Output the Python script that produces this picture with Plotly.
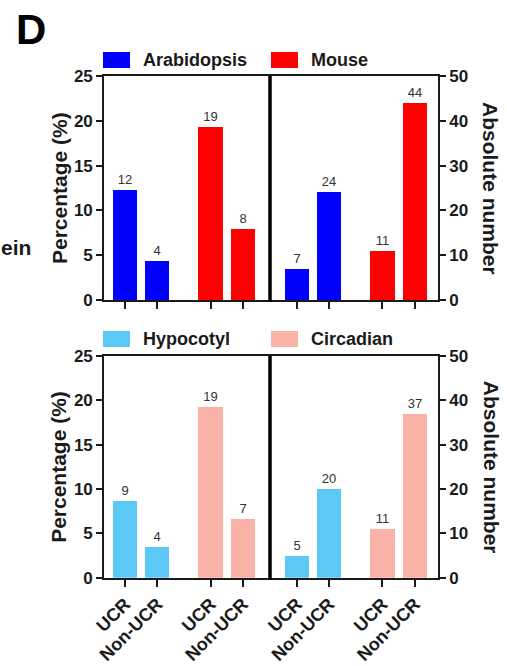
import plotly.graph_objects as go

# ---------------- data ----------------
categories = ["UCR", "Non-UCR"]

# top panel
arabidopsis_pct = [12.3, 4.3]
arabidopsis_pct_labels = ["12", "4"]
mouse_pct = [19.3, 7.9]
mouse_pct_labels = ["19", "8"]
arabidopsis_abs = [7, 24]
mouse_abs = [11, 44]

# bottom panel
hypocotyl_pct = [8.7, 3.5]
hypocotyl_pct_labels = ["9", "4"]
circadian_pct = [19.3, 6.6]
circadian_pct_labels = ["19", "7"]
hypocotyl_abs = [5, 20]
circadian_abs = [11, 37]

pct_ticks = [0, 5, 10, 15, 20, 25]
abs_ticks = [0, 10, 20, 30, 40, 50]

# ---------------- style ----------------
W, H = 507, 666
FONT = "Liberation Sans, Arial, sans-serif"
BLUE, RED = "#0000FF", "#FF0000"
LBLUE, SALMON = "#5BC8F5", "#F9B2A6"
GROUP_OFFSET = 2.65
BAR_W = 0.75


def fx(p):
    return p / W


def fy(p):
    return 1 - p / H


def pos(group):
    return [i + group * GROUP_OFFSET for i in range(len(categories))]


all_pos = pos(0) + pos(1)
tick_text = categories + categories

fig = go.Figure()


def add_bars(xa, ya, group, vals, labels, color):
    fig.add_trace(go.Bar(
        x=pos(group), y=vals, width=BAR_W, xaxis=xa, yaxis=ya,
        marker=dict(color=color, line=dict(width=0)),
        text=labels, textposition="outside", cliponaxis=False,
        textfont=dict(family=FONT, size=13, color="#333333"),
        showlegend=False, hoverinfo="skip"))


# top row
add_bars("x", "y", 0, arabidopsis_pct, arabidopsis_pct_labels, BLUE)
add_bars("x", "y", 1, mouse_pct, mouse_pct_labels, RED)
add_bars("x2", "y2", 0, arabidopsis_abs, [str(v) for v in arabidopsis_abs], BLUE)
add_bars("x2", "y2", 1, mouse_abs, [str(v) for v in mouse_abs], RED)
# bottom row
add_bars("x3", "y3", 0, hypocotyl_pct, hypocotyl_pct_labels, LBLUE)
add_bars("x3", "y3", 1, circadian_pct, circadian_pct_labels, SALMON)
add_bars("x4", "y4", 0, hypocotyl_abs, [str(v) for v in hypocotyl_abs], LBLUE)
add_bars("x4", "y4", 1, circadian_abs, [str(v) for v in circadian_abs], SALMON)

LINE = "#1a1a1a"
tickfont = dict(family=FONT, size=17, color="#1a1a1a", weight="bold")
xtickfont = dict(family=FONT, size=18, color="#1a1a1a", weight="bold")

top_dom = [fy(300), fy(76)]
bot_dom = [fy(577.7), fy(356)]
left_dom = [fx(104), fx(270)]
right_dom = [fx(270), fx(438)]
left_range = [-0.65, 4.49]
right_range = [-0.83, 4.37]


def xax(dom, rng, anchor, labels):
    return dict(domain=dom, range=rng, anchor=anchor, showline=True, mirror=True,
                linecolor=LINE, linewidth=1.6, ticks="outside", ticklen=7,
                tickwidth=1.6, tickcolor=LINE, tickvals=all_pos,
                ticktext=tick_text if labels else ["" for _ in all_pos],
                showticklabels=labels, tickangle=-45, tickfont=xtickfont,
                showgrid=False, zeroline=False, fixedrange=True, automargin=False)


def yax(dom, rng, anchor, ticks, side):
    return dict(domain=dom, range=rng, anchor=anchor, side=side, showline=True,
                linecolor=LINE, linewidth=1.6, ticks="outside", ticklen=6,
                tickwidth=1.6, tickcolor=LINE, tickvals=ticks, tickfont=tickfont,
                showgrid=False, zeroline=False, fixedrange=True, automargin=False)


fig.update_layout(
    width=W, height=H, margin=dict(l=0, r=0, t=0, b=0, pad=0, autoexpand=False),
    paper_bgcolor="white", plot_bgcolor="white",
    font=dict(family=FONT),
    bargap=0,
    xaxis=xax(left_dom, left_range, "y", False),
    yaxis=yax(top_dom, [0, 25], "x", pct_ticks, "left"),
    xaxis2=xax(right_dom, right_range, "y2", False),
    yaxis2=yax(top_dom, [0, 50], "x2", abs_ticks, "right"),
    xaxis3=xax(left_dom, left_range, "y3", True),
    yaxis3=yax(bot_dom, [0, 25], "x3", pct_ticks, "left"),
    xaxis4=xax(right_dom, right_range, "y4", True),
    yaxis4=yax(bot_dom, [0, 50], "x4", abs_ticks, "right"),
)

annotations = []
shapes = []

# axis titles
for yc in [(76 + 300) / 2, (356 + 577.7) / 2]:
    annotations.append(dict(xref="paper", yref="paper", x=fx(59), y=fy(yc),
                            text="<b>Percentage (%)</b>", textangle=-90, showarrow=False,
                            font=dict(family=FONT, size=21, color="#1a1a1a"),
                            xanchor="center", yanchor="middle"))
    annotations.append(dict(xref="paper", yref="paper", x=fx(491), y=fy(yc),
                            text="<b>Absolute number</b>", textangle=90, showarrow=False,
                            font=dict(family=FONT, size=21, color="#1a1a1a"),
                            xanchor="center", yanchor="middle"))

# dividers
for (y0, y1) in [(76, 302), (356, 580)]:
    shapes.append(dict(type="line", xref="paper", yref="paper",
                       x0=fx(270), x1=fx(270), y0=fy(y0), y1=fy(y1),
                       line=dict(color="black", width=3.5)))

# legends
legend_items = [
    ("Arabidopsis", BLUE, 103, 60), ("Mouse", RED, 271, 60),
    ("Hypocotyl", LBLUE, 103, 339), ("Circadian", SALMON, 271, 339),
]
for name, col, x0, yc in legend_items:
    shapes.append(dict(type="rect", xref="paper", yref="paper",
                       x0=fx(x0), x1=fx(x0 + 27), y0=fy(yc - 8), y1=fy(yc + 8),
                       fillcolor=col, line=dict(width=0)))
    annotations.append(dict(xref="paper", yref="paper", x=fx(x0 + 38), y=fy(yc),
                            text=f"<b>{name}</b>", showarrow=False,
                            xanchor="left", yanchor="middle",
                            font=dict(family=FONT, size=18, color="#1a1a1a")))

# panel letter and neighbouring fragment
annotations.append(dict(xref="paper", yref="paper", x=fx(14), y=fy(30), text="<b>D</b>",
                        showarrow=False, xanchor="left", yanchor="middle",
                        font=dict(family=FONT, size=42, color="black")))
annotations.append(dict(xref="paper", yref="paper", x=fx(-1), y=fy(247), text="<b>ein</b>",
                        showarrow=False, xanchor="left", yanchor="middle",
                        font=dict(family=FONT, size=21, color="#1a1a1a")))

fig.update_layout(annotations=annotations, shapes=shapes)
fig.write_html("out.html", config={"displayModeBar": False},
               post_script="document.body.style.margin='0';document.body.style.overflow='hidden';")
